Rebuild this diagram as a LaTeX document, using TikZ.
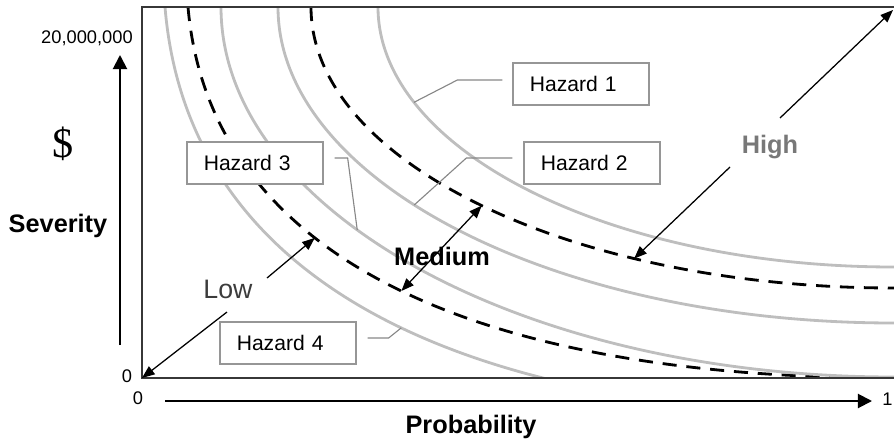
\documentclass[tikz,border=0pt]{standalone}
\usepackage{fontspec}
\setmainfont{Liberation Sans}
\newfontfamily\dollarfont{Liberation Serif}
\usetikzlibrary{arrows.meta}

\definecolor{curvegray}{RGB}{190,190,190}
\definecolor{boxgray}{RGB}{150,150,150}
\definecolor{leadgray}{RGB}{135,135,135}
\definecolor{framegray}{RGB}{55,55,55}
\definecolor{highgray}{RGB}{120,120,120}
\definecolor{lowgray}{RGB}{60,60,60}

\begin{document}
\begin{tikzpicture}[
    x=0.025cm, y=-0.025cm,
    haz/.style={line width=2pt, curvegray},
    zone/.style={line width=2pt, black, dash pattern=on 10pt off 7pt},
    frame/.style={line width=1.4pt, framegray},
    hazbox/.style={draw=boxgray, fill=white, line width=0.9pt, minimum width=3.4cm,
                   minimum height=1.05cm, inner xsep=0.42cm, text width=2.56cm,
                   align=left, font=\fontsize{15}{18}\selectfont},
    leader/.style={leadgray, line width=0.8pt},
    arr/.style={-{Triangle[length=9pt, width=7pt]}, line width=0.9pt},
    axis/.style={-{Triangle[length=10pt, width=10pt]}, line width=1.4pt},
    lbl/.style={font=\bfseries\fontsize{18}{22}\selectfont, inner sep=0pt},
    num/.style={font=\fontsize{13}{15}\selectfont, inner sep=0pt}
]
\useasboundingbox (0,0) rectangle (894,441);

% ---- Hazard curves and zone borders ----
\begin{scope}
  \clip (142,7) rectangle (894,378);
  \draw[haz]  (165,7) .. controls (188,286) and (467,416) .. (894,416) coordinate[pos=0.53] (onA);
  \draw[zone] (188,7) .. controls (210,260) and (480,378) .. (894,378)
      coordinate[pos=0.38] (lowtip) coordinate[pos=0.51] (medlo);
  \draw[haz]  (221,7) .. controls (221,211) and (523,377) .. (894,377) coordinate[pos=0.41] (onC);
  \draw[haz]  (278,7) .. controls (278,181) and (554,323) .. (894,323) coordinate[pos=0.43] (onD);
  \draw[zone] (311,7) .. controls (311,162) and (572,288) .. (894,288)
      coordinate[pos=0.5] (medhi) coordinate[pos=0.71] (hightip);
  \draw[haz]  (378,7) .. controls (378,150) and (609,267) .. (894,267) coordinate[pos=0.235] (onF);
\end{scope}

% ---- Frame ----
\draw[frame] (894,7) -- (142,7) -- (142,378) -- (894,378);
\coordinate (origin) at (142,378);
\coordinate (corner) at (893,10);

% ---- Hazard labels ----
\foreach \i/\x/\y in {1/581/84, 2/592/163, 3/255/163, 4/288/343} {
    \node[hazbox] (h\i) at (\x,\y) {Hazard \i};
}
\draw[leader] ([shift={(-10,-4)}]h1.west) -- ++(-45,0) -- (onF);
\draw[leader] ([shift={(-11,-5)}]h2.west) -- ++(-46,0) -- (onD);
\draw[leader] ([shift={(11,-5)}]h3.east) -- ++(13,0) -- (onC);
\draw[leader] ([shift={(11,-5)}]h4.east) -- ++(21,0) -- (onA);

% ---- Zones ----
\node[font=\fontsize{19}{22}\selectfont, lowgray, inner sep=0pt, anchor=base] (low) at (228,298) {Low};
\node[lbl, anchor=base] (med) at (442,265) {Medium};
\node[lbl, highgray, anchor=base] (high) at (770,153) {High};

\coordinate (lowup) at (267,278);
\coordinate (lowdn) at (227,312);
\coordinate (highup) at (780,118);
\coordinate (highdn) at (730,167);

\draw[arr] (lowup) -- (lowtip);
\draw[arr] (lowdn) -- (origin);
\draw[arr] (highup) -- (corner);
\draw[arr] (highdn) -- (hightip);
\draw[arr, {Triangle[length=9pt, width=7pt]}-{Triangle[length=9pt, width=7pt]}] (medlo) -- (medhi);

% ---- Axes ----
\coordinate (ylo) at (120,345);
\coordinate (yhi) at (120,55);
\coordinate (xlo) at (165,401);
\coordinate (xhi) at (872,401);
\draw[axis] (ylo) -- (yhi);
\draw[axis] (xlo) -- (xhi);

\node[num, anchor=base east] (ymax) at (133,43) {20,000,000};
\node[num, anchor=base] (ymin) at (127,382) {0};
\node[num, anchor=base] (xmin) at (138,404) {0};
\node[num, anchor=base west] (xmax) at (882,405) {1};

\node[lbl, anchor=base] (sev) at (58,232) {Severity};
\node[lbl, anchor=base] (prob) at (471,433) {Probability};
\node[font=\dollarfont\fontsize{30}{34}\selectfont, inner sep=0pt, anchor=base] (dollar) at (63,157) {\$};

\end{tikzpicture}
\end{document}
